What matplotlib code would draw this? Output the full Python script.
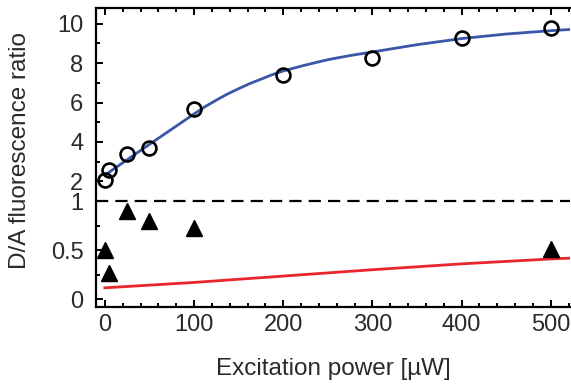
import numpy as np
import matplotlib
matplotlib.use('Agg')
import matplotlib.pyplot as plt
from matplotlib.ticker import FixedLocator, MultipleLocator

plt.rcParams['font.family'] = ['Liberation Sans', 'DejaVu Sans']

# D/A ratio, open circles
power_da = [0, 5, 25, 50, 100, 200, 300, 400, 500]
ratio_da = [2.08, 2.57, 3.38, 3.72, 5.65, 7.38, 8.28, 9.27, 9.75]

# triangles (lower part)
power_tri = [0, 5, 25, 50, 100, 500]
ratio_tri = [0.50, 0.27, 0.90, 0.80, 0.73, 0.51]

# blue fitted curve
fit_x = [0, 25, 50, 75, 100, 112, 125, 137, 150, 162, 175, 187, 200, 225, 250,
         275, 300, 350, 400, 450, 500, 525]
fit_y = [2.32, 3.10, 3.88, 4.65, 5.42, 5.78, 6.12, 6.42, 6.70, 6.95, 7.18, 7.40,
         7.60, 7.90, 8.17, 8.38, 8.56, 8.93, 9.24, 9.47, 9.64, 9.71]

# red curve
red_x = [0, 100, 200, 300, 400, 500, 525]
red_y = [0.115, 0.17, 0.235, 0.30, 0.36, 0.41, 0.42]

# lower 0..1 band is stretched relative to the 1..10 band
K = 4.96


def fwd(y):
    y = np.asarray(y, dtype=float)
    return np.where(y <= 1, y * K, K + (y - 1))


def inv(t):
    t = np.asarray(t, dtype=float)
    return np.where(t <= K, t / K, t - K + 1)


fig = plt.figure(figsize=(5.71, 3.89), dpi=100)
ax = fig.add_axes([0.168, 0.211, 0.831, 0.768])
ax.set_yscale('function', functions=(fwd, inv))

ax.plot(fit_x, fit_y, color='#3b56a8', lw=2.0, zorder=2)
ax.plot(red_x, red_y, color='#e8262b', lw=2.0, zorder=2)
ax.axhline(1, color='black', lw=1.6, dashes=(5.5, 3.2), zorder=1)
ax.plot(power_da, ratio_da, 'o', mfc='none', mec='black', mew=1.9, ms=10, zorder=3)
ax.plot(power_tri, ratio_tri, '^', color='black', ms=11.5, zorder=3)

ax.set_xlim(-10, 522)
ax.set_ylim(-0.08, 10.78)

ax.yaxis.set_major_locator(FixedLocator([0, 0.5, 1, 2, 4, 6, 8, 10]))
ax.set_yticklabels(['0', '0.5', '1', '2', '4', '6', '8', '10'])
ax.yaxis.set_minor_locator(FixedLocator([0.25, 0.75, 3, 5, 7, 9]))
ax.xaxis.set_major_locator(MultipleLocator(100))
ax.xaxis.set_minor_locator(MultipleLocator(20))

ax.tick_params(which='both', direction='in', top=True, right=False, width=1.4,
               labelsize=17, labelcolor='#2a2a2a')
ax.tick_params(axis='x', pad=5)
ax.tick_params(axis='y', pad=9)
ax.tick_params(which='major', length=5)
ax.tick_params(which='minor', length=3)
ax.spines['right'].set_visible(False)
for s in ['left', 'bottom', 'top']:
    ax.spines[s].set_linewidth(1.6)

ax.set_xlabel('Excitation power [µW]', fontsize=17.5, color='#2a2a2a', labelpad=16)
ax.set_ylabel('D/A fluorescence ratio', fontsize=17.5, color='#2a2a2a')
ax.yaxis.set_label_coords(-0.137, 0.525)

fig.savefig('out.png', dpi=100)
